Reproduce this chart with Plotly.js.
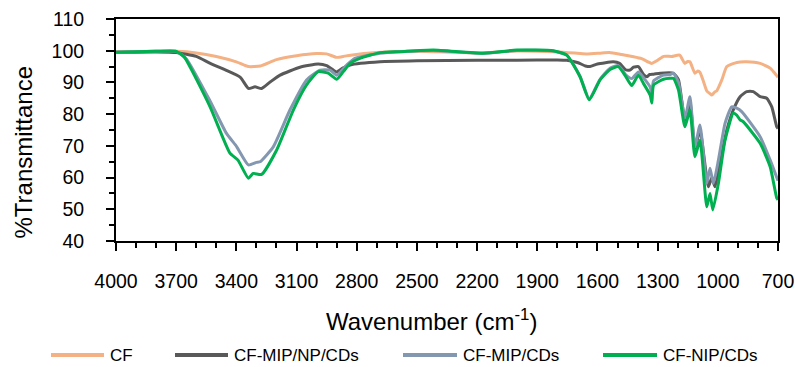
<!DOCTYPE html>
<html>
<head>
<meta charset="utf-8">
<script src="https://cdn.plot.ly/plotly-3.0.1.min.js"></script>
<style>html,body{margin:0;padding:0;background:#fff;}#chart{width:795px;height:367px;}</style>
</head>
<body>
<div id="chart"></div>
<script>
// ---- Data ----
const seriesNames = ["CF", "CF-MIP/NP/CDs", "CF-MIP/CDs", "CF-NIP/CDs"];

const cfWave = [4000,3800,3700,3600,3500,3400,3340,3280,3200,3100,3000,2950,2900,2860,2830,2700,2500,2200,2000,1800,1700,1650,1590,1540,1480,1420,1380,1330,1300,1270,1230,1190,1165,1150,1139,1114,1100,1089,1070,1055,1040,1030,1015,1005,980,955,905,856,789,739,720,700];
const cfT    = [99.6,99.8,99.8,99.3,98.2,96.5,95.0,95.2,97.2,98.4,99.1,99.0,97.9,98.3,98.6,99.4,99.8,99.3,99.9,99.6,99.2,99.0,99.2,99.4,98.8,98.1,97.5,96.0,97.0,98.2,98.2,98.6,96.0,96.6,96.5,92.9,93.6,93.2,90.0,87.3,86.5,86.0,87.0,87.4,90.8,95.0,96.3,96.5,96.0,94.5,93.2,91.6];

const mipNpWave = [4000,3800,3700,3600,3530,3450,3380,3340,3307,3274,3230,3182,3083,2992,2950,2917,2900,2870,2833,2684,2500,2200,2000,1800,1753,1700,1660,1637,1600,1521,1490,1460,1438,1420,1396,1370,1354,1340,1320,1287,1221,1196,1164,1139,1114,1089,1047,1030,1014,989,955,923,889,856,823,789,756,731,706,700];
const mipNpT    = [99.5,99.6,99.4,98.2,96.0,93.8,91.6,88.1,88.6,88.1,90.2,92.3,94.8,95.8,95.3,93.9,93.3,94.5,95.5,96.5,96.8,97.0,97.0,97.1,97.0,96.3,95.2,95.0,95.8,96.5,96.0,94.0,93.9,94.8,95.0,92.5,91.8,92.5,92.6,92.9,92.9,90.8,78.0,84.0,69.0,75.0,57.1,60.0,57.1,64.5,75.0,81.3,85.5,87.1,87.1,85.5,85.0,82.3,76.0,75.5];

const mipWave = [4000,3800,3700,3650,3530,3450,3398,3340,3300,3282,3216,3133,3050,2983,2933,2900,2850,2809,2684,2584,2418,2169,2003,1820,1753,1687,1641,1587,1537,1496,1460,1429,1396,1371,1337,1329,1320,1271,1237,1221,1196,1164,1139,1114,1089,1055,1039,1022,997,964,931,906,881,789,739,700];
const mipT    = [99.5,99.8,99.8,97.5,84.0,74.0,69.7,64.0,64.8,65.0,69.7,81.3,90.8,93.9,93.9,92.3,95.5,97.6,99.2,99.7,100.1,99.2,100.1,99.9,98.6,92.0,84.8,91.0,94.5,95.3,92.5,91.2,93.3,91.5,88.5,86.5,90.5,92.3,92.5,92.9,90.0,78.7,85.5,69.7,76.6,58.2,62.9,58.2,65.5,77.1,82.3,81.9,80.8,72.9,65.5,59.0];

const nipWave = [4000,3800,3700,3660,3531,3432,3392,3340,3316,3274,3199,3116,3050,2992,2942,2900,2867,2833,2784,2684,2584,2418,2169,2003,1820,1753,1687,1641,1587,1537,1496,1460,1429,1396,1371,1337,1329,1320,1271,1237,1221,1196,1164,1139,1114,1089,1055,1039,1025,997,964,923,906,889,873,789,739,706,700];
const nipT    = [99.5,99.8,99.8,98.0,82.3,67.7,65.5,59.8,61.3,61.0,68.7,81.3,89.2,93.4,92.9,91.0,93.4,96.0,97.6,99.4,99.7,100.2,99.2,100.2,100.0,98.6,91.8,84.5,90.8,94.1,95.0,92.0,89.0,92.3,89.7,86.0,83.5,89.2,91.0,91.3,91.3,87.6,76.0,81.3,66.6,71.8,50.8,55.0,49.8,58.2,71.8,80.3,79.7,78.2,77.6,70.8,63.4,53.5,53.0];

const xTickVals = [4000,3700,3400,3100,2800,2500,2200,1900,1600,1300,1000,700];
const yTickVals = [40,50,60,70,80,90,100,110];

// ---- Styling ----
const colors = ["#F4B183", "#595959", "#8497B0", "#00B050"];
const waves = [cfWave, mipNpWave, mipWave, nipWave];
const values = [cfT, mipNpT, mipT, nipT];

const traces = seriesNames.map((n, i) => ({
  type: "scatter", mode: "lines", name: n,
  x: waves[i], y: values[i],
  line: {color: colors[i], width: 3, shape: "spline", smoothing: 0.5},
  showlegend: false, hoverinfo: "skip"
}));

// plot area in pixels
const L = 116, R = 778, T = 19, B = 241;
const px = v => (v - L) / (R - L);
const py = v => (B - v) / (B - T);

const legendItems = [
  {x0: 51, x1: 104, tx: 108},
  {x0: 175, x1: 228, tx: 232},
  {x0: 403, x1: 457, tx: 461},
  {x0: 603, x1: 657, tx: 661}
];
const legY = 355;
const shapes = legendItems.map((it, i) => ({
  type: "line", xref: "paper", yref: "paper",
  x0: px(it.x0), x1: px(it.x1), y0: py(legY), y1: py(legY),
  line: {color: colors[i], width: 4}
}));
const font = "Liberation Sans, Arial, sans-serif";
const annotations = legendItems.map((it, i) => ({
  xref: "paper", yref: "paper", x: px(it.tx), y: py(legY),
  xanchor: "left", yanchor: "middle", showarrow: false,
  text: seriesNames[i], font: {family: font, size: 17, color: "#000"}
}));
annotations.push({
  xref: "paper", yref: "paper", x: px(431.5), y: py(320),
  xanchor: "center", yanchor: "middle", showarrow: false,
  text: "Wavenumber (cm<sup>-1</sup>)", font: {family: font, size: 24, color: "#000"}
});
annotations.push({
  xref: "paper", yref: "paper", x: px(23), y: py(152.5),
  xanchor: "center", yanchor: "middle", showarrow: false, textangle: -90,
  text: "%Transmittance", font: {family: font, size: 24, color: "#000"}
});

const layout = {
  width: 795, height: 367,
  margin: {l: L, r: 795 - R, t: T, b: 367 - B},
  paper_bgcolor: "#fff", plot_bgcolor: "#fff",
  font: {family: font, color: "#000"},
  showlegend: false,
  xaxis: {
    range: [4000, 700], autorange: false,
    tickmode: "array", tickvals: xTickVals, ticktext: xTickVals.map(String),
    ticks: "outside", ticklen: 8, tickwidth: 2, tickcolor: "#000",
    minor: {dtick: 100, tick0: 700, ticks: "outside", ticklen: 5, tickwidth: 2, tickcolor: "#000", showgrid: false},
    showline: true, linecolor: "#000", linewidth: 2, mirror: true,
    showgrid: false, zeroline: false,
    tickfont: {family: font, size: 19.5, color: "#000"},
    ticklabelstandoff: 14
  },
  yaxis: {
    range: [40, 110], autorange: false,
    tickmode: "array", tickvals: yTickVals, ticktext: yTickVals.map(String),
    ticks: "outside", ticklen: 8, tickwidth: 2, tickcolor: "#000",
    minor: {dtick: 5, tick0: 40, ticks: "outside", ticklen: 5, tickwidth: 2, tickcolor: "#000", showgrid: false},
    showline: true, linecolor: "#000", linewidth: 2, mirror: true,
    showgrid: false, zeroline: false,
    tickfont: {family: font, size: 19.5, color: "#000"},
    ticklabelstandoff: 18
  },
  shapes: shapes,
  annotations: annotations
};

Plotly.newPlot("chart", traces, layout, {staticPlot: true, displayModeBar: false});
</script>
</body>
</html>
